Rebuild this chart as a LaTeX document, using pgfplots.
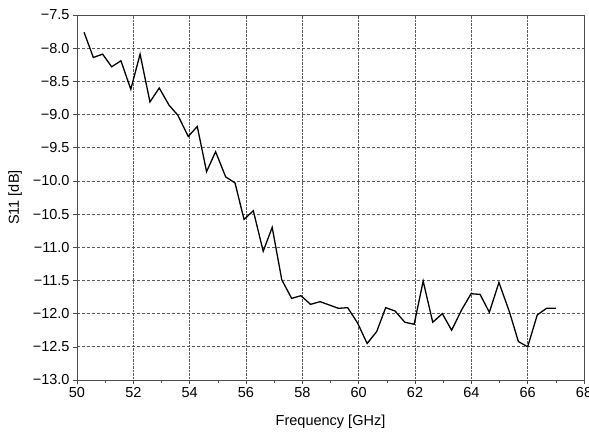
\documentclass[border=0pt]{standalone}
\usepackage{fontspec}
\setmainfont{Liberation Sans}
\usepackage{pgfplots}
\pgfplotsset{compat=1.18}

\begin{document}
\begin{tikzpicture}
\begin{axis}[
    name=ax,
    scale only axis,
    width=507bp, height=365bp,
    xmin=50, xmax=68, ymin=-13, ymax=-7.5,
    xtick={50,52,...,68},
    minor x tick num=1,
    ytick={-13,-12.5,-12,-11.5,-11,-10.5,-10,-9.5,-9,-8.5,-8,-7.5},
    yticklabels={−13.0,−12.5,−12.0,−11.5,−11.0,−10.5,−10.0,−9.5,−9.0,−8.5,−8.0,−7.5},
    xtick pos=bottom, ytick pos=left,
    tick align=outside,
    major tick length=4bp, minor tick length=3bp,
    tick style={black!70, line width=0.6bp},
    axis line style={black!70, line width=0.8bp},
    /pgf/number format/assume math mode=true,
    tick label style={font=\fontsize{14.5bp}{17bp}\selectfont},
    label style={font=\fontsize{14.5bp}{17bp}\selectfont},
    xlabel={Frequency [GHz]},
    ylabel={S11 [dB]},
    xlabel style={yshift=-10bp},
    ylabel style={yshift=4bp},
    grid=major,
    x grid style={densely dotted, black!65, line width=0.7bp},
    y grid style={dash pattern=on 3bp off 2bp, black!65, line width=0.7bp},
]
\addplot[black, line width=1.3bp] coordinates {
    (50.25,-7.76) (50.58,-8.14) (50.91,-8.09) (51.23,-8.28) (51.56,-8.19)
    (51.91,-8.62) (52.24,-8.09) (52.59,-8.81) (52.92,-8.60) (53.27,-8.86)
    (53.58,-9.01) (53.95,-9.33) (54.27,-9.18) (54.60,-9.86) (54.92,-9.56)
    (55.28,-9.94) (55.61,-10.03) (55.93,-10.58) (56.26,-10.45) (56.61,-11.06)
    (56.93,-10.70) (57.27,-11.49) (57.62,-11.77) (57.95,-11.73) (58.29,-11.86)
    (58.63,-11.82) (58.96,-11.87) (59.28,-11.92) (59.61,-11.91) (59.96,-12.14)
    (60.30,-12.45) (60.64,-12.27) (60.96,-11.91) (61.29,-11.96) (61.64,-12.13)
    (61.97,-12.16) (62.29,-11.51) (62.63,-12.13) (62.97,-12.00) (63.30,-12.25)
    (63.66,-11.94) (63.99,-11.70) (64.31,-11.71) (64.64,-11.98) (64.98,-11.53)
    (65.35,-11.97) (65.67,-12.42) (66.00,-12.50) (66.34,-12.02) (66.67,-11.92)
    (67.00,-11.92)
};
\end{axis}
\pgfresetboundingbox
\path[use as bounding box] ([shift={(-77bp,-57bp)}]ax.south west) rectangle ([shift={(5bp,15bp)}]ax.north east);
\end{tikzpicture}
\end{document}
